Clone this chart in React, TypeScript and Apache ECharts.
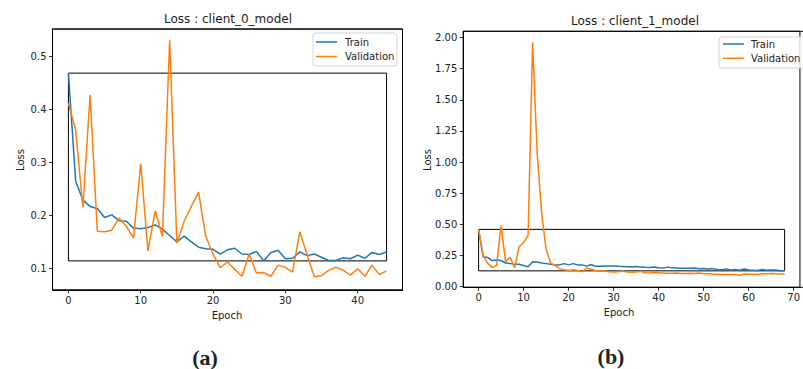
import React, { useEffect, useRef } from "react";
import * as echarts from "echarts";

// ---- Data ----
const seriesNames = ["Train", "Validation"];

const trainA = [
  0.469, 0.265, 0.229, 0.217, 0.213, 0.196, 0.201, 0.19, 0.189, 0.176,
  0.175, 0.177, 0.182, 0.174, 0.162, 0.15, 0.161, 0.15, 0.14, 0.137,
  0.136, 0.127, 0.135, 0.138, 0.127, 0.126, 0.132, 0.114, 0.13, 0.134,
  0.118, 0.119, 0.131, 0.124, 0.127, 0.121, 0.115, 0.115, 0.12, 0.118,
  0.125, 0.119, 0.13, 0.126, 0.131,
];
const valA = [
  0.412, 0.362, 0.215, 0.428, 0.17, 0.169, 0.172, 0.195, 0.18, 0.157,
  0.298, 0.133, 0.209, 0.16, 0.531, 0.148, 0.189, 0.217, 0.244, 0.16,
  0.127, 0.101, 0.112, 0.098, 0.085, 0.127, 0.091, 0.092, 0.085, 0.106,
  0.102, 0.093, 0.169, 0.126, 0.084, 0.086, 0.096, 0.102, 0.096, 0.087,
  0.099, 0.085, 0.106, 0.088, 0.095,
];
const trainB = [
  0.46, 0.24, 0.235, 0.21, 0.215, 0.21, 0.19, 0.185, 0.18, 0.18,
  0.17, 0.16, 0.2, 0.198, 0.19, 0.185, 0.18, 0.175, 0.175, 0.185,
  0.175, 0.185, 0.175, 0.175, 0.165, 0.178, 0.163, 0.163, 0.165, 0.165,
  0.165, 0.163, 0.162, 0.16, 0.158, 0.162, 0.157, 0.155, 0.154, 0.158,
  0.152, 0.149, 0.157, 0.151, 0.15, 0.148, 0.147, 0.148, 0.15, 0.144,
  0.145, 0.142, 0.145, 0.138, 0.135, 0.143, 0.134, 0.138, 0.132, 0.142,
  0.134, 0.131, 0.13, 0.137, 0.131, 0.134, 0.133, 0.128, 0.127,
];
const valB = [
  0.46, 0.25, 0.19, 0.155, 0.17, 0.49, 0.2, 0.235, 0.15, 0.32,
  0.355, 0.41, 1.96, 1.08, 0.59, 0.3, 0.19, 0.17, 0.145, 0.135,
  0.13, 0.135, 0.13, 0.12, 0.15, 0.14, 0.13, 0.125, 0.125, 0.12,
  0.118, 0.12, 0.125, 0.118, 0.116, 0.117, 0.124, 0.112, 0.11, 0.113,
  0.112, 0.109, 0.108, 0.108, 0.109, 0.105, 0.106, 0.107, 0.106, 0.109,
  0.104, 0.103, 0.1, 0.099, 0.098, 0.097, 0.098, 0.097, 0.092, 0.101,
  0.1, 0.099, 0.098, 0.103, 0.104, 0.106, 0.104, 0.101, 0.102,
];

const xTicksA = [0, 10, 20, 30, 40];
const yTicksA = [0.1, 0.2, 0.3, 0.4, 0.5];
const xTicksB = [0, 10, 20, 30, 40, 50, 60, 70];
const yTicksB = [0, 0.25, 0.5, 0.75, 1.0, 1.25, 1.5, 1.75, 2.0];

const titles = ["Loss : client_0_model", "Loss : client_1_model"];
const panelLabels = ["(a)", "(b)"];

const BLUE = "#1f77b4";
const ORANGE = "#ff7f0e";
const FONT = "DejaVu Sans";
const SPINE_COLOR = "#000";

// plot-area layout
const GRID_A = { left: 52.5, top: 29, width: 350, height: 261 };
const GRID_B = { left: 463.3, top: 31.3, width: 343, height: 256 };

const toPairs = (arr: number[]) => arr.map((v, i) => [i, v]);

function axisX(grid: number, min: number, max: number, ticks: number[]) {
  return {
    gridIndex: grid,
    type: "value",
    min,
    max,
    axisLine: { show: true, onZero: false, lineStyle: { color: SPINE_COLOR, width: 1 } },
    splitLine: { show: false },
    axisTick: {
      show: true,
      length: 3.5,
      customValues: ticks,
      lineStyle: { color: "#000", width: 0.8 },
    },
    axisLabel: {
      customValues: ticks,
      fontSize: 10,
      fontFamily: FONT,
      color: "#222",
      margin: 5,
      formatter: (v: number) => String(Math.round(v)),
    },
  };
}

function axisY(grid: number, min: number, max: number, ticks: number[], digits: number) {
  return {
    gridIndex: grid,
    type: "value",
    min,
    max,
    axisLine: { show: true, onZero: false, lineStyle: { color: SPINE_COLOR, width: 1 } },
    splitLine: { show: false },
    axisTick: {
      show: true,
      length: 3.5,
      customValues: ticks,
      lineStyle: { color: "#000", width: 0.8 },
    },
    axisLabel: {
      customValues: ticks,
      fontSize: 10,
      fontFamily: FONT,
      color: "#222",
      margin: 6,
      formatter: (v: number) => v.toFixed(digits),
    },
  };
}

// spines: a stroked closed polyline around the plot area (layout only)
function frame(g: { left: number; top: number; width: number; height: number }) {
  const l = g.left, t = g.top, r = g.left + g.width, b = g.top + g.height;
  return {
    type: "polyline",
    z: 95,
    silent: true,
    shape: { points: [[l, t], [r, t], [r, b], [l, b], [l, t]] },
    style: { stroke: SPINE_COLOR, lineWidth: 1, fill: null },
  };
}

// a frame drawn by the series itself through a mark area spanning the axes
const frameArea = {
  silent: true,
  itemStyle: { color: "rgba(0,0,0,0)", borderColor: SPINE_COLOR, borderWidth: 1 },
  label: { show: false },
  data: [[{ xAxis: "min", yAxis: "min" }, { xAxis: "max", yAxis: "max" }]],
};

function legendGraphic(x: number, y: number, w: number, h: number, lineX: number, textX: number, ys: number[]) {
  const children: any[] = [
    {
      type: "rect",
      shape: { x, y, width: w, height: h, r: 3 },
      style: { fill: "rgba(255,255,255,0.8)", stroke: "#d3d3d3", lineWidth: 1 },
    },
  ];
  seriesNames.forEach((name, i) => {
    children.push({
      type: "line",
      shape: { x1: lineX, y1: ys[i], x2: lineX + 21, y2: ys[i] },
      style: { stroke: i === 0 ? BLUE : ORANGE, lineWidth: 1.5 },
    });
    children.push({
      type: "text",
      x: textX,
      y: ys[i],
      style: {
        text: name,
        font: `10px "${FONT}"`,
        fill: "#222",
        align: "left",
        verticalAlign: "middle",
      },
    });
  });
  return { type: "group", z: 100, children };
}

function txt(text: string, x: number, y: number, font: string, rotation = 0) {
  return {
    type: "text",
    x,
    y,
    rotation,
    z: 100,
    style: { text, font, fill: "#222", align: "center", verticalAlign: "middle" },
  };
}

export default function App() {
  const ref = useRef<HTMLDivElement>(null);

  useEffect(() => {
    if (!ref.current) return;
    const chart = echarts.init(ref.current, undefined, { renderer: "svg" });
    const option: any = {
      animation: false,
      backgroundColor: "#fff",
      grid: [
        { ...GRID_A, containLabel: false, show: true, borderColor: SPINE_COLOR, borderWidth: 1 },
        { ...GRID_B, containLabel: false, show: true, borderColor: SPINE_COLOR, borderWidth: 1 },
      ],
      xAxis: [axisX(0, -2.2, 46.2, xTicksA), axisX(1, -3.4, 71.4, xTicksB)],
      yAxis: [
        axisY(0, 0.059, 0.5524, yTicksA, 1),
        axisY(1, -0.005, 2.05, yTicksB, 2),
      ],
      series: [
        { name: seriesNames[0], data: toPairs(trainA), color: BLUE, xAxisIndex: 0, yAxisIndex: 0, markArea: frameArea },
        { name: seriesNames[1], data: toPairs(valA), color: ORANGE, xAxisIndex: 0, yAxisIndex: 0 },
        { name: seriesNames[0], data: toPairs(trainB), color: BLUE, xAxisIndex: 1, yAxisIndex: 1, markArea: frameArea },
        { name: seriesNames[1], data: toPairs(valB), color: ORANGE, xAxisIndex: 1, yAxisIndex: 1 },
      ].map((s) => ({
        ...s,
        type: "line",
        showSymbol: false,
        symbol: "none",
        clip: false,
        lineStyle: { width: 1.5, color: s.color },
      })),
      graphic: [
        frame(GRID_A),
        frame(GRID_B),
        txt(titles[0], 228, 19, `12px "${FONT}"`),
        txt(titles[1], 635, 21, `12px "${FONT}"`),
        txt("Loss", 20, 160, `10px "${FONT}"`, Math.PI / 2),
        txt("Loss", 427, 160, `10px "${FONT}"`, Math.PI / 2),
        txt("Epoch", 227, 315, `10px "${FONT}"`),
        txt("Epoch", 619, 312, `10px "${FONT}"`),
        txt(panelLabels[0], 205, 357, `bold 22px "Liberation Serif"`),
        txt(panelLabels[1], 611, 356, `bold 22px "Liberation Serif"`),
        legendGraphic(313, 33, 84, 33, 316, 345, [42, 56.5]),
        legendGraphic(719, 37, 90, 31, 723, 751, [44, 58.3]),
      ],
    };
    chart.setOption(option);
    return () => chart.dispose();
  }, []);

  return (
    <div
      ref={ref}
      style={{ position: "absolute", left: 0, top: 0, width: 803, height: 369 }}
    />
  );
}
